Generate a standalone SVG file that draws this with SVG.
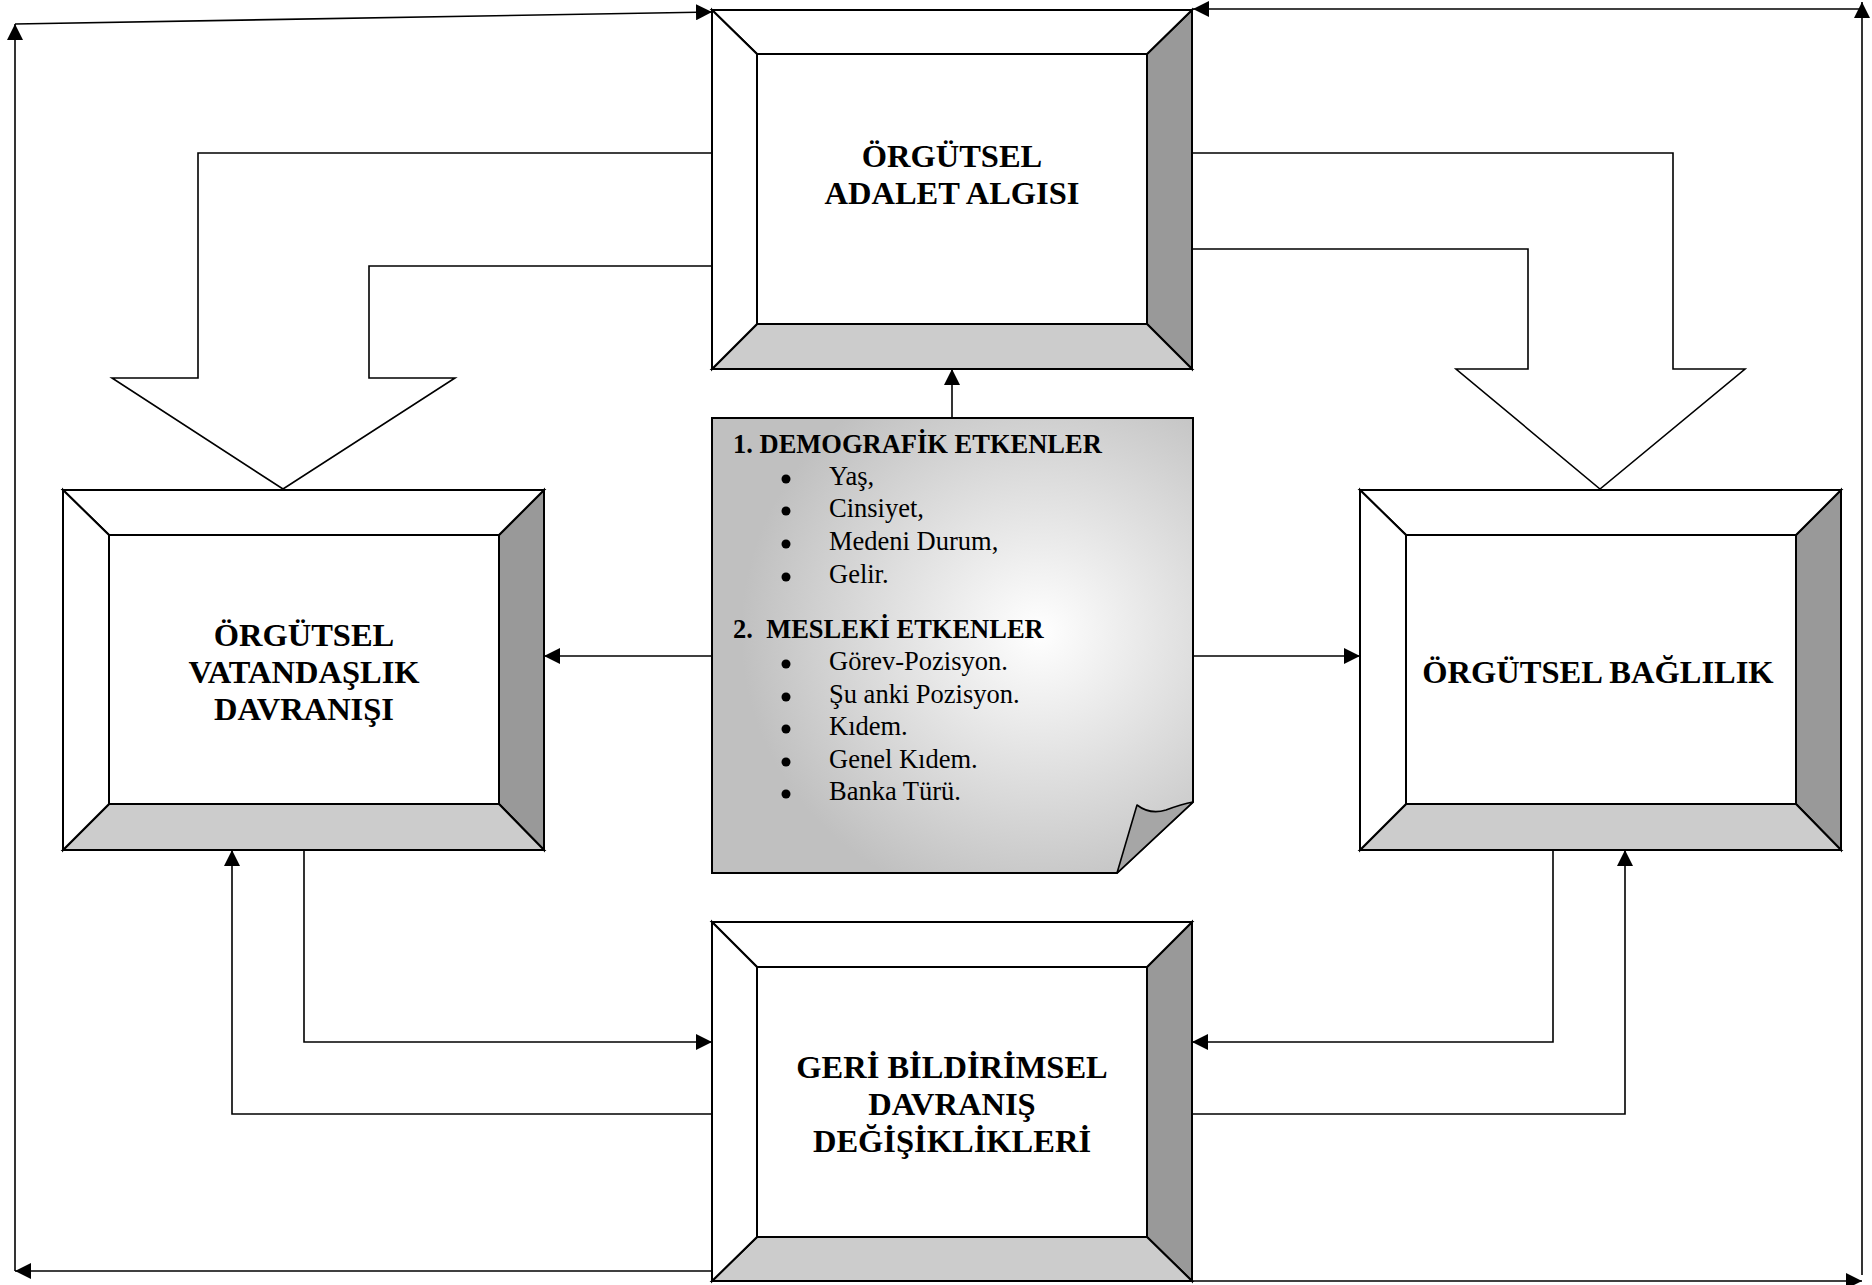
<svg xmlns="http://www.w3.org/2000/svg" width="1872" height="1285" viewBox="0 0 1872 1285">
<style>
.edge{fill:none;stroke:#000;stroke-width:1.6}
.blk{fill:none;stroke:#000;stroke-width:1.6;stroke-linejoin:miter}
.bv{stroke:#000;stroke-width:2;stroke-linejoin:miter}
.t{font-family:"Liberation Serif","Times New Roman",serif;font-weight:bold;font-size:32.5px;text-anchor:middle;fill:#000}
.n{font-family:"Liberation Serif","Times New Roman",serif;font-size:26.5px;fill:#000}
.nb{font-weight:bold}
</style>
<defs>
<marker id="ah" viewBox="0 0 16 16" refX="16" refY="8" markerWidth="16" markerHeight="16" markerUnits="userSpaceOnUse" orient="auto">
<path d="M0,0 L16,8 L0,16 Z" fill="#000"/>
</marker>
<radialGradient id="ng" cx="0.68" cy="0.47" r="0.62" fx="0.68" fy="0.47">
<stop offset="0" stop-color="#ffffff"/>
<stop offset="1" stop-color="#c0c0c0"/>
</radialGradient>
</defs>
<rect width="1872" height="1285" fill="#fff"/>

<g id="connectors">
<path class="blk" d="M712,153 L198,153 L198,378 L112,378 L283,489 L455,378 L369,378 L369,266 L712,266"/>
<path class="blk" d="M1192,153 L1673,153 L1673,369 L1745,369 L1600,489 L1456,369 L1528,369 L1528,249 L1192,249"/>
<line class="edge" x1="952" y1="418" x2="952" y2="369" marker-end="url(#ah)"/>
<line class="edge" x1="712" y1="656" x2="544" y2="656" marker-end="url(#ah)"/>
<line class="edge" x1="1193" y1="656" x2="1360" y2="656" marker-end="url(#ah)"/>
<polyline class="edge" points="304,850 304,1042 712,1042" marker-end="url(#ah)"/>
<polyline class="edge" points="712,1114 232,1114 232,850" marker-end="url(#ah)"/>
<polyline class="edge" points="1553,850 1553,1042 1192,1042" marker-end="url(#ah)"/>
<polyline class="edge" points="1192,1114 1625,1114 1625,850" marker-end="url(#ah)"/>
<line class="edge" x1="712" y1="1271" x2="15" y2="1271" marker-end="url(#ah)"/>
<line class="edge" x1="15" y1="1271" x2="15" y2="24" marker-end="url(#ah)"/>
<line class="edge" x1="15" y1="24" x2="712" y2="12" marker-end="url(#ah)"/>
<line class="edge" x1="1192" y1="1281" x2="1862" y2="1281" marker-end="url(#ah)"/>
<line class="edge" x1="1862" y1="1275" x2="1862" y2="2" marker-end="url(#ah)"/>
<line class="edge" x1="1862" y1="9" x2="1193" y2="9" marker-end="url(#ah)"/>
</g>

<g id="node-adalet">
<rect class="bv" x="712" y="10" width="480" height="359" fill="#fff"/>
<polygon class="bv" points="1192,10 1192,369 1147,324 1147,54" fill="#999"/>
<polygon class="bv" points="712,369 1192,369 1147,324 757,324" fill="#ccc"/>
<polygon class="bv" points="712,10 757,54 1147,54 1192,10" fill="#fff"/>
<polygon class="bv" points="712,10 757,54 757,324 712,369" fill="#fff"/>
<rect class="bv" x="757" y="54" width="390" height="270" fill="#fff"/>
<text class="t" x="952" y="167">ÖRGÜTSEL</text>
<text class="t" x="952" y="204">ADALET ALGISI</text>
</g>

<g id="node-vatandaslik">
<rect class="bv" x="63" y="490" width="481" height="360" fill="#fff"/>
<polygon class="bv" points="544,490 544,850 499,804 499,535" fill="#999"/>
<polygon class="bv" points="63,850 544,850 499,804 109,804" fill="#ccc"/>
<polygon class="bv" points="63,490 109,535 499,535 544,490" fill="#fff"/>
<polygon class="bv" points="63,490 109,535 109,804 63,850" fill="#fff"/>
<rect class="bv" x="109" y="535" width="390" height="269" fill="#fff"/>
<text class="t" x="304" y="646">ÖRGÜTSEL</text>
<text class="t" x="304" y="683">VATANDAŞLIK</text>
<text class="t" x="304" y="720">DAVRANIŞI</text>
</g>

<g id="node-baglilik">
<rect class="bv" x="1360" y="490" width="481" height="360" fill="#fff"/>
<polygon class="bv" points="1841,490 1841,850 1796,804 1796,535" fill="#999"/>
<polygon class="bv" points="1360,850 1841,850 1796,804 1406,804" fill="#ccc"/>
<polygon class="bv" points="1360,490 1406,535 1796,535 1841,490" fill="#fff"/>
<polygon class="bv" points="1360,490 1406,535 1406,804 1360,850" fill="#fff"/>
<rect class="bv" x="1406" y="535" width="390" height="269" fill="#fff"/>
<text class="t" x="1598" y="683">ÖRGÜTSEL BAĞLILIK</text>
</g>

<g id="node-geribildirim">
<rect class="bv" x="712" y="922" width="480" height="359" fill="#fff"/>
<polygon class="bv" points="1192,922 1192,1281 1147,1237 1147,967" fill="#999"/>
<polygon class="bv" points="712,1281 1192,1281 1147,1237 757,1237" fill="#ccc"/>
<polygon class="bv" points="712,922 757,967 1147,967 1192,922" fill="#fff"/>
<polygon class="bv" points="712,922 757,967 757,1237 712,1281" fill="#fff"/>
<rect class="bv" x="757" y="967" width="390" height="270" fill="#fff"/>
<text class="t" x="952" y="1078">GERİ BİLDİRİMSEL</text>
<text class="t" x="952" y="1115">DAVRANIŞ</text>
<text class="t" x="952" y="1152">DEĞİŞİKLİKLERİ</text>
</g>

<g id="node-etkenler">
<path d="M712,418 L1193,418 L1193,802 L1117,873 L712,873 Z" fill="url(#ng)" stroke="#000" stroke-width="2"/>
<path d="M1117,873 L1137,805 Q1150,815 1166,810 Q1182,804 1193,802 Z" fill="#a6a6a6" stroke="#000" stroke-width="1.6" stroke-linejoin="round"/>
<text class="n nb" x="733" y="453">1. DEMOGRAFİK ETKENLER</text>
<g fill="#000">
<circle cx="786" cy="479" r="4.5"/>
<circle cx="786" cy="511" r="4.5"/>
<circle cx="786" cy="544" r="4.5"/>
<circle cx="786" cy="577" r="4.5"/>
<circle cx="786" cy="664" r="4.5"/>
<circle cx="786" cy="697" r="4.5"/>
<circle cx="786" cy="729" r="4.5"/>
<circle cx="786" cy="762" r="4.5"/>
<circle cx="786" cy="794" r="4.5"/>
</g>
<text class="n" x="829" y="485">Yaş,</text>
<text class="n" x="829" y="517">Cinsiyet,</text>
<text class="n" x="829" y="550">Medeni Durum,</text>
<text class="n" x="829" y="583">Gelir.</text>
<text class="n nb" x="733" y="638" xml:space="preserve">2.  MESLEKİ ETKENLER</text>
<text class="n" x="829" y="670">Görev-Pozisyon.</text>
<text class="n" x="829" y="703">Şu anki Pozisyon.</text>
<text class="n" x="829" y="735">Kıdem.</text>
<text class="n" x="829" y="768">Genel Kıdem.</text>
<text class="n" x="829" y="800">Banka Türü.</text>
</g>
</svg>
